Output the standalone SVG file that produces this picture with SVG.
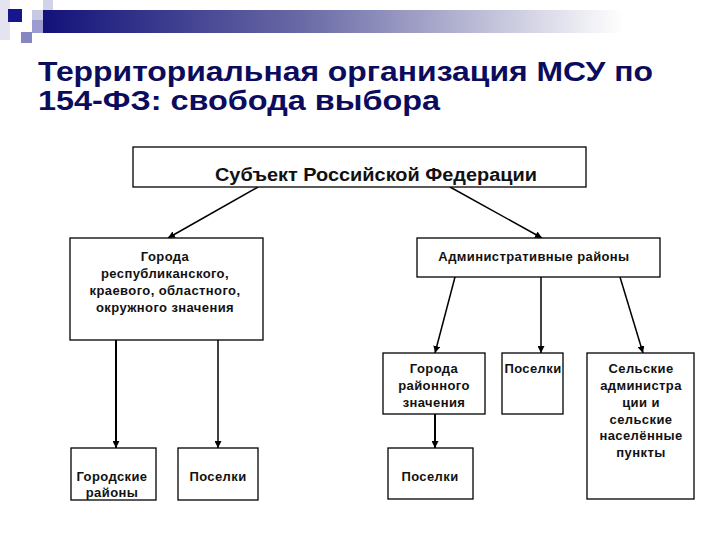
<svg xmlns="http://www.w3.org/2000/svg" width="720" height="540" viewBox="0 0 720 540">
<defs>
<linearGradient id="bar" x1="0" y1="0" x2="1" y2="0">
<stop offset="0" stop-color="#12127a"/>
<stop offset="0.45" stop-color="#6a6aa6"/>
<stop offset="1" stop-color="#ffffff"/>
</linearGradient>
<marker id="arr" viewBox="0 0 10 10" refX="10" refY="5" markerWidth="7" markerHeight="7" markerUnits="userSpaceOnUse" orient="auto">
<path d="M0,0 L10,5 L0,10 z" fill="#000"/>
</marker>
<style>
.box{fill:#fff;stroke:#000;stroke-width:1.3}
.t{font-family:"Liberation Sans",Arial,sans-serif;font-weight:bold;fill:#111;text-anchor:middle}
.s{font-size:13px;letter-spacing:0.4px}
.c{stroke:#000;stroke-width:1.5;fill:none;marker-end:url(#arr)}
.title{font-family:"Liberation Sans",Arial,sans-serif;font-weight:bold;font-size:28px;fill:#0c0c5e}
</style>
</defs>
<rect width="720" height="540" fill="#fff"/>
<g id="decor">
<rect x="0" y="0" width="10" height="40" fill="#e4e4f0"/>
<rect x="43" y="0" width="10" height="30" fill="#d2d2e8"/>
<rect x="32" y="10" width="11" height="10" fill="#c8c8e4"/>
<rect x="32" y="20" width="11" height="13" fill="#9c9cce"/>
<rect x="21" y="32" width="11" height="11" fill="#8686c0"/>
<rect x="8" y="9" width="14" height="13" fill="#16168f"/>
<rect x="43" y="10" width="580" height="23" fill="url(#bar)"/>
</g>
<g id="title">
<text class="title" x="38" y="81" textLength="615" lengthAdjust="spacingAndGlyphs">Территориальная организация МСУ по</text>
<text class="title" x="38" y="110" textLength="402" lengthAdjust="spacingAndGlyphs">154-ФЗ: свобода выбора</text>
</g>
<g id="connectors">
<line class="c" x1="258" y1="187" x2="168" y2="238"/>
<line class="c" x1="450" y1="187" x2="542" y2="238"/>
<line class="c" x1="455" y1="277" x2="435" y2="353"/>
<line class="c" x1="541" y1="277" x2="541" y2="353"/>
<line class="c" x1="620" y1="277" x2="643" y2="353"/>
<line class="c" x1="435" y1="414" x2="435" y2="448" style="stroke-width:2"/>
<line class="c" x1="116" y1="340" x2="116" y2="448" style="stroke-width:2"/>
<line class="c" x1="218" y1="340" x2="218" y2="448"/>
</g>
<g id="subject">
<rect class="box" x="133" y="147" width="453" height="40"/>
<text class="t" x="376" y="181" font-size="18" textLength="322" lengthAdjust="spacingAndGlyphs">Субъект Российской Федерации</text>
</g>
<g id="cities">
<rect class="box" x="70" y="238" width="193" height="102"/>
<text class="t s" x="165" y="261">Города</text>
<text class="t s" x="165" y="278">республиканского,</text>
<text class="t s" x="165" y="295">краевого, областного,</text>
<text class="t s" x="165" y="312">окружного значения</text>
</g>
<g id="admin">
<rect class="box" x="417" y="238" width="243" height="39"/>
<text class="t s" x="534" y="261">Административные районы</text>
</g>
<g id="city-districts">
<rect class="box" x="71" y="448" width="85" height="52"/>
<text class="t s" x="112" y="481">Городские</text>
<text class="t s" x="112" y="497">районы</text>
</g>
<g id="settlements1">
<rect class="box" x="178" y="448" width="80" height="52"/>
<text class="t s" x="218" y="481">Поселки</text>
</g>
<g id="district-cities">
<rect class="box" x="383" y="353" width="102" height="61"/>
<text class="t s" x="434" y="373">Города</text>
<text class="t s" x="434" y="390">районного</text>
<text class="t s" x="434" y="407">значения</text>
</g>
<g id="settlements2">
<rect class="box" x="502" y="353" width="61" height="61"/>
<text class="t s" x="533" y="373">Поселки</text>
</g>
<g id="rural">
<rect class="box" x="587" y="353" width="107" height="146"/>
<text class="t s" x="641" y="373">Сельские</text>
<text class="t s" x="641" y="390">администра</text>
<text class="t s" x="641" y="407">ции и</text>
<text class="t s" x="641" y="424">сельские</text>
<text class="t s" x="641" y="440">населённые</text>
<text class="t s" x="641" y="457">пункты</text>
</g>
<g id="settlements3">
<rect class="box" x="388" y="448" width="85" height="51"/>
<text class="t s" x="430" y="481">Поселки</text>
</g>
</svg>
